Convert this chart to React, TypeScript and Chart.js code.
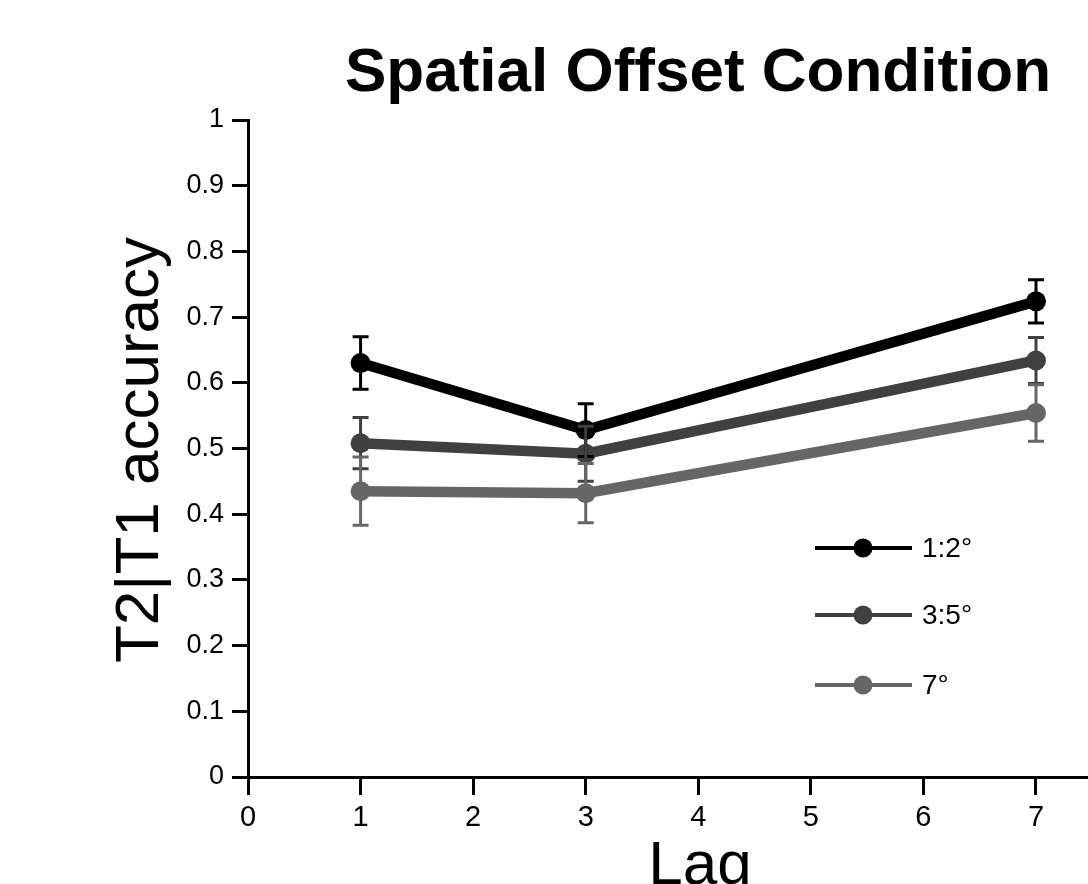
import React, { useEffect, useRef } from "react";
import { Chart, registerables } from "chart.js";

Chart.register(...registerables);

const titleText = "Spatial Offset Condition";
const xAxisTitle = "Lag";
const yAxisTitle = "T2|T1 accuracy";

const lags = [1, 3, 7];
const seriesLabels = ["1:2°", "3:5°", "7°"];
const seriesColors = ["#000000", "#404040", "#666666"];

const acc12 = [0.630, 0.528, 0.724];
const err12 = [0.040, 0.040, 0.033];
const acc35 = [0.508, 0.492, 0.634];
const err35 = [0.039, 0.042, 0.035];
const acc7 = [0.435, 0.432, 0.554];
const err7 = [0.052, 0.045, 0.043];

const xTickValues = [0, 1, 2, 3, 4, 5, 6, 7];
const yTickValues = [0, 0.1, 0.2, 0.3, 0.4, 0.5, 0.6, 0.7, 0.8, 0.9, 1];
const yTickLabels = ["0", "0.1", "0.2", "0.3", "0.4", "0.5", "0.6", "0.7", "0.8", "0.9", "1"];

const means = [acc12, acc35, acc7];
const errors = [err12, err35, err7];

const FONT = "'Liberation Sans', Arial, Helvetica, sans-serif";

const errorBarPlugin = {
  id: "errorBars",
  afterDatasetsDraw(chart: any) {
    const { ctx, scales } = chart;
    const xs = scales.x;
    const ys = scales.y;
    ctx.save();
    means.forEach((vals, si) => {
      ctx.strokeStyle = seriesColors[si];
      ctx.lineWidth = 3;
      vals.forEach((v, i) => {
        const px = xs.getPixelForValue(lags[i]);
        const top = ys.getPixelForValue(v + errors[si][i]);
        const bot = ys.getPixelForValue(v - errors[si][i]);
        ctx.beginPath();
        ctx.moveTo(px, top);
        ctx.lineTo(px, bot);
        ctx.moveTo(px - 8, top);
        ctx.lineTo(px + 8, top);
        ctx.moveTo(px - 8, bot);
        ctx.lineTo(px + 8, bot);
        ctx.stroke();
      });
    });
    ctx.restore();
  },
};

const annotationPlugin = {
  id: "customText",
  afterDraw(chart: any) {
    const { ctx } = chart;
    ctx.save();
    ctx.fillStyle = "#000";
    ctx.font = `bold 62px ${FONT}`;
    ctx.textAlign = "center";
    ctx.textBaseline = "alphabetic";
    ctx.fillText(titleText, 698, 91);
    ctx.font = `62px ${FONT}`;
    ctx.fillText(xAxisTitle, 700, 884);
    ctx.save();
    ctx.translate(158, 450);
    ctx.rotate(-Math.PI / 2);
    ctx.textBaseline = "alphabetic";
    ctx.fillText(yAxisTitle, 0, 0);
    ctx.restore();
    const ly = [548, 615, 685];
    seriesLabels.forEach((lab, i) => {
      const y = ly[i];
      ctx.strokeStyle = seriesColors[i];
      ctx.lineWidth = 4;
      ctx.beginPath();
      ctx.moveTo(815, y);
      ctx.lineTo(912, y);
      ctx.stroke();
      ctx.fillStyle = seriesColors[i];
      ctx.beginPath();
      ctx.arc(863, y, 9.5, 0, Math.PI * 2);
      ctx.fill();
      ctx.fillStyle = "#000";
      ctx.font = `28px ${FONT}`;
      ctx.textAlign = "left";
      ctx.textBaseline = "middle";
      ctx.fillText(lab, 922, y + 1);
    });
    ctx.restore();
  },
};

export default function App() {
  const ref = useRef<HTMLCanvasElement | null>(null);
  useEffect(() => {
    document.body.style.margin = "0";
    const canvas = ref.current;
    if (!canvas) return;
    const chart = new Chart(canvas, {
      type: "line",
      data: {
        datasets: means.map((vals, si) => ({
          label: seriesLabels[si],
          data: vals.map((v, i) => ({ x: lags[i], y: v })),
          borderColor: seriesColors[si],
          backgroundColor: seriesColors[si],
          borderWidth: 10.5,
          pointRadius: 10,
          pointBorderWidth: 0,
          pointBackgroundColor: seriesColors[si],
          tension: 0,
          fill: false,
          clip: false,
        })),
      },
      options: {
        animation: false,
        responsive: false,
        maintainAspectRatio: false,
        layout: { autoPadding: false, padding: { top: 120, left: 0, right: 0, bottom: 0 } },
        plugins: {
          legend: { display: false },
          title: { display: false },
          tooltip: { enabled: false },
        },
        scales: {
          x: {
            type: "linear",
            min: 0,
            max: 7.462,
            afterFit(scale: any) {
              scale.height = 107;
              scale.paddingLeft = 0;
              scale.paddingRight = 0;
            },
            afterBuildTicks(scale: any) {
              scale.ticks = xTickValues.map((v) => ({ value: v }));
            },
            ticks: {
              includeBounds: false,
              stepSize: 1,
              color: "#000",
              font: { family: FONT, size: 29 },
              padding: 6,
              maxRotation: 0,
              callback: (v: any) => String(v),
            },
            grid: {
              drawOnChartArea: false,
              drawTicks: true,
              tickLength: 18,
              lineWidth: 3,
              color: "#000",
            },
            border: { display: true, color: "#000", width: 3 },
          },
          y: {
            type: "linear",
            min: 0,
            max: 1,
            afterFit(scale: any) {
              scale.width = 248;
              scale.paddingTop = 0;
              scale.paddingBottom = 0;
            },
            afterBuildTicks(scale: any) {
              scale.ticks = yTickValues.map((v) => ({ value: v }));
            },
            ticks: {
              stepSize: 0.1,
              color: "#000",
              font: { family: FONT, size: 27 },
              padding: 8,
              callback: (_v: any, i: number) => yTickLabels[i],
            },
            grid: {
              drawOnChartArea: false,
              drawTicks: true,
              tickLength: 16,
              lineWidth: 3,
              color: "#000",
            },
            border: { display: true, color: "#000", width: 3 },
          },
        },
      },
      plugins: [errorBarPlugin, annotationPlugin],
    });
    return () => chart.destroy();
  }, []);
  return (
    <div style={{ position: "absolute", left: 0, top: 0, width: 1088, height: 884, background: "#fff" }}>
      <canvas ref={ref} width={1088} height={884} style={{ width: 1088, height: 884, display: "block" }} />
    </div>
  );
}
